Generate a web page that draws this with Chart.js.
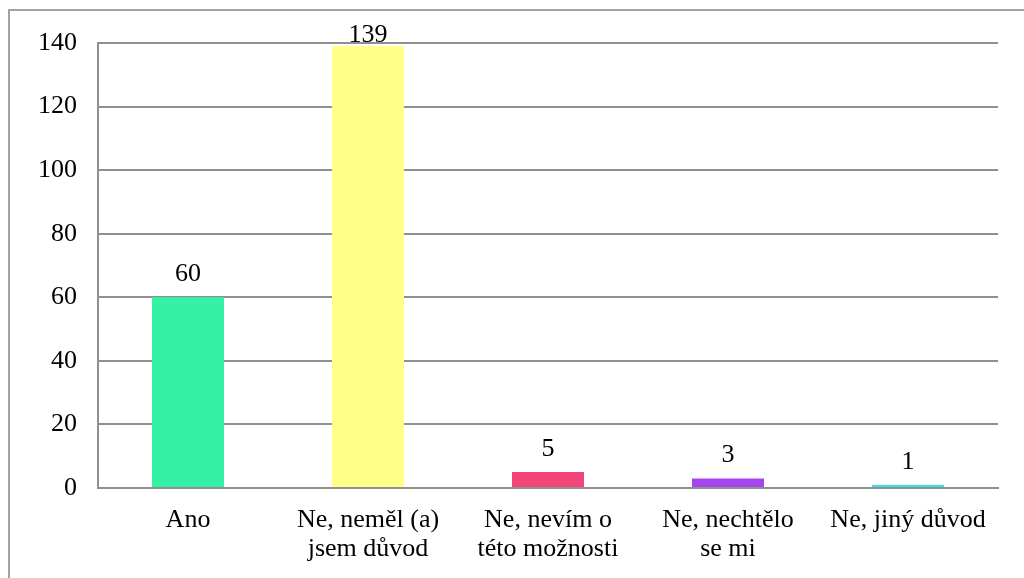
<!DOCTYPE html>
<html>
<head>
<meta charset="utf-8">
<script src="https://cdn.jsdelivr.net/npm/chart.js@4.4.1/dist/chart.umd.min.js"></script>
<style>
  html, body { margin: 0; padding: 0; background: #fff; }
  #wrap { position: relative; width: 1024px; height: 578px; overflow: hidden; }
  #frame { position: absolute; left: 8px; top: 9px; width: 1200px; height: 800px;
           border-left: 2px solid #a3a3a3; border-top: 2px solid #a3a3a3; }
  canvas { position: absolute; left: 0; top: 0; }
  #warm { position: absolute; left: -9999px; top: 0; font-family: "Liberation Serif"; font-size: 26px; }
</style>
</head>
<body>
<div id="wrap">
  <div id="frame"></div>
  <canvas id="c" width="1024" height="578"></canvas>
</div>
<span id="warm">Ne, neměl důvod 0123456789</span>
<script>
const categories = [
  'Ano',
  ['Ne, neměl (a)', 'jsem důvod'],
  ['Ne, nevím o', 'této možnosti'],
  ['Ne, nechtělo', 'se mi'],
  'Ne, jiný důvod'
];
const counts = [60, 139, 5, 3, 1];
const barColors = ['#33f2a6', '#ffff88', '#f2457a', '#a445f0', '#45dbe3'];
const yTicks = [0, 20, 40, 60, 80, 100, 120, 140];

const FONT = '"Liberation Serif", "Times New Roman", serif';
const FONT_SIZE = 26;
const GRID = '#8f8f8f';

// Writes each bar's count above it, kept from running past the top gridline
const valueLabels = {
  id: 'valueLabels',
  afterDatasetsDraw(chart) {
    const ctx = chart.ctx;
    const meta = chart.getDatasetMeta(0);
    const top = chart.chartArea.top;
    ctx.save();
    ctx.font = FONT_SIZE + 'px ' + FONT;
    ctx.fillStyle = '#000';
    ctx.textAlign = 'center';
    ctx.textBaseline = 'alphabetic';
    meta.data.forEach((bar, i) => {
      const y = Math.max(bar.y - 16, top - 1);
      ctx.fillText(String(counts[i]), bar.x, y);
    });
    ctx.restore();
  }
};

function draw() {
  new Chart(document.getElementById('c'), {
    type: 'bar',
    data: {
      labels: categories,
      datasets: [{
        data: counts,
        backgroundColor: barColors,
        borderWidth: 0,
        barPercentage: 0.4,
        categoryPercentage: 1
      }]
    },
    options: {
      responsive: false,
      animation: false,
      layout: { padding: { top: 43, right: 26, left: 0, bottom: 0 } },
      plugins: { legend: { display: false }, tooltip: { enabled: false } },
      scales: {
        x: {
          grid: { display: false, drawTicks: false },
          border: { display: true, color: GRID, width: 2 },
          ticks: {
            color: '#000',
            font: { family: FONT, size: FONT_SIZE, lineHeight: 1.1 },
            padding: 18,
            maxRotation: 0,
            autoSkip: false
          },
          afterFit(scale) { scale.height = 90; }
        },
        y: {
          min: 0,
          max: 140,
          afterBuildTicks(scale) { scale.ticks = yTicks.map(v => ({ value: v })); },
          grid: { color: GRID, lineWidth: 2, drawTicks: false },
          border: { display: true, color: GRID, width: 2 },
          ticks: {
            color: '#000',
            font: { family: FONT, size: FONT_SIZE },
            padding: 21
          },
          afterFit(scale) { scale.width = 98; }
        }
      }
    },
    plugins: [valueLabels]
  });
}

if (document.fonts && document.fonts.load) {
  document.fonts.load(FONT_SIZE + 'px "Liberation Serif"').then(draw, draw);
} else {
  draw();
}
</script>
</body>
</html>
